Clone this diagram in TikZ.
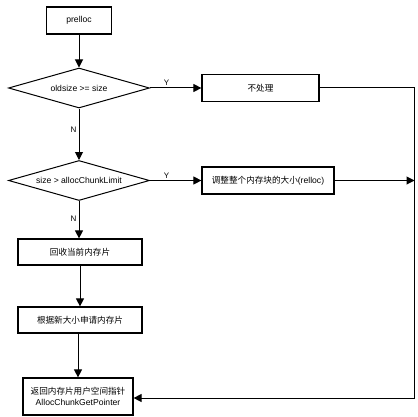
\documentclass[tikz,border=0pt]{standalone}
\usepackage{fontspec}
\setmainfont{Liberation Sans}
\newfontfamily\cjk{Noto Sans CJK SC}
\usetikzlibrary{shapes.geometric,arrows.meta,calc,positioning}

\begin{document}
\begin{tikzpicture}[x=1pt,y=-1pt]

  \tikzstyle{stepbox} = [draw,line width=1.2pt,fill=white,minimum height=27pt,inner sep=1pt,font=\fontsize{8.6}{10.5}\selectfont]
  \tikzstyle{decision} = [draw,diamond,shape aspect=3.5,line width=1pt,fill=white,minimum width=141pt,minimum height=40pt,inner sep=0pt,font=\fontsize{8.6}{10.5}\selectfont]
  \tikzstyle{flow} = [line width=1pt,-{Triangle[length=8pt,width=8pt]}]
  \tikzstyle{yn} = [font=\fontsize{8}{9}\selectfont,inner sep=2pt]

  \useasboundingbox (0,0) rectangle (417,417);

  \node[stepbox,minimum width=65pt] (prelloc) at (79,20.5) {prelloc};
  \node[decision] (oldsize) at (79,88) {oldsize >= size};
  \node[decision] (limit) at (79,180.5) {size > allocChunkLimit};

  \node[stepbox,minimum width=117pt] (keep) at (260.5,88) {\cjk 不处理};
  \node[stepbox,minimum width=132pt] (resize) at (268,180.5) {{\cjk 调整整个内存块的大小}(relloc)};

  \node[stepbox,minimum width=124pt,minimum height=26pt] (freechunk) at (80,252) {\cjk 回收当前内存片};
  \node[stepbox,minimum width=124pt,minimum height=26pt] (newchunk) at (80,320) {\cjk 根据新大小申请内存片};
  \node[stepbox,minimum width=110pt,minimum height=37pt,align=center] (ret) at (78,396.5) {{\cjk 返回内存片用户空间指针}\\AllocChunkGetPointer};

  \coordinate (turn1) at (414.5,88);
  \coordinate (turn2) at (414.5,398);

  \draw[flow] (prelloc) -- (oldsize);
  \draw[flow] (oldsize) -- node[yn,pos=0.32,above] {Y} (keep);
  \draw[flow] (oldsize) -- node[yn,pos=0.42,left] {N} (limit);
  \draw[flow] (limit) -- node[yn,pos=0.32,above] {Y} (resize);
  \draw[flow] (limit) -- node[yn,pos=0.48,left] {N} (limit.south |- freechunk.north);
  \draw[flow] (freechunk) -- (newchunk);
  \draw[flow] (newchunk.south -| ret) -- (ret);

  \draw[flow] (keep.east) -- (turn1) -- (turn2) -- (turn2 -| ret.east);
  \draw[flow] (resize.east) -- (resize.east -| turn1);

\end{tikzpicture}
\end{document}
